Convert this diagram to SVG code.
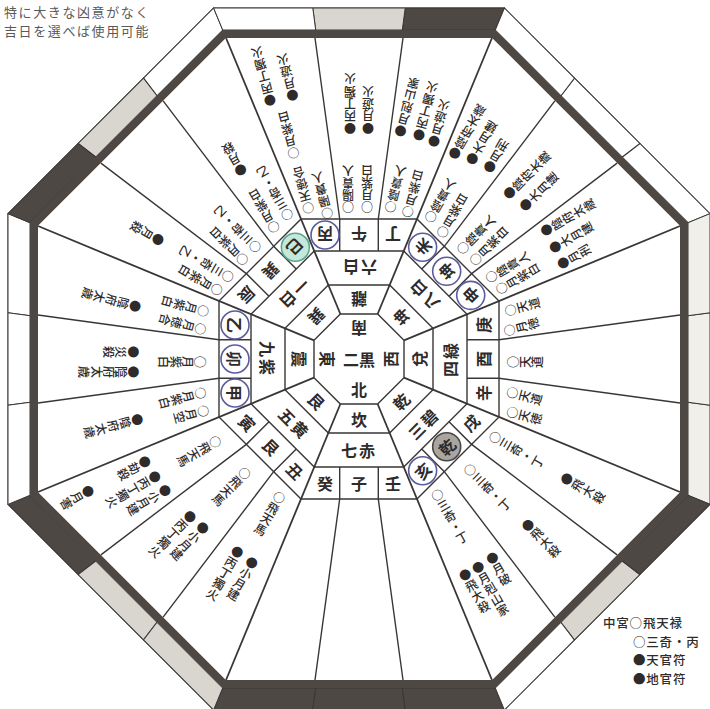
<svg xmlns="http://www.w3.org/2000/svg" width="710" height="709" viewBox="0 0 710 709">
<style>
.ln{stroke:#3a3636;fill:none;stroke-width:1.4}
.cl{stroke:#3a3636;stroke-width:1.8}
.sg{stroke:#3a3636;stroke-width:1}
.D{fill:#4e4845}.G{fill:#d9d6cf}.W{fill:#fff}.Lt{fill:#f1efea}
.k{font-family:"Noto Sans CJK JP",sans-serif;font-size:16px;font-weight:bold;fill:#2e2b2a;text-anchor:middle;dominant-baseline:central}
.v{font-family:"Noto Sans CJK JP",sans-serif;font-size:12px;font-weight:500;fill:#2e2b2a;writing-mode:vertical-rl;letter-spacing:0.3px}
.bc{fill:none;stroke:#5a5c9c;stroke-width:1.6}
.hd{font-family:"Noto Sans CJK JP",sans-serif;font-size:13px;fill:#5a5a5a;letter-spacing:1.6px}
.lg{font-family:"Noto Sans CJK JP",sans-serif;font-size:12.5px;font-weight:500;fill:#2e2b2a;letter-spacing:0.8px}
</style>
<rect width="710" height="709" fill="#fff"/>
<text class="hd" x="4" y="17">特に大きな凶意がなく</text>
<text class="hd" x="4" y="36">吉日を選べば使用可能</text>
<g transform="translate(359,359)">
<g id="frame">
<polygon class="sg" fill="#fff" points="145.39,351 351,145.39 351,-145.39 145.39,-351 -145.39,-351 -351,-145.39 -351,145.39 -145.39,351"/>
<g transform="rotate(0)"><polygon class="sg D" points="-136.28,329 -43.31,329 -46.21,351 -145.39,351"/><polygon class="sg D" points="-43.31,329 43.31,329 46.21,351 -46.21,351"/><polygon class="sg D" points="43.31,329 136.28,329 145.39,351 46.21,351"/></g>
<g transform="rotate(45)"><polygon class="sg D" points="-136.28,329 -43.31,329 -46.21,351 -145.39,351"/><polygon class="sg G" points="-43.31,329 43.31,329 46.21,351 -46.21,351"/><polygon class="sg G" points="43.31,329 136.28,329 145.39,351 46.21,351"/></g>
<g transform="rotate(90)"><polygon class="sg W" points="-136.28,329 -43.31,329 -46.21,351 -145.39,351"/><polygon class="sg W" points="-43.31,329 43.31,329 46.21,351 -46.21,351"/><polygon class="sg W" points="43.31,329 136.28,329 145.39,351 46.21,351"/></g>
<g transform="rotate(135)"><polygon class="sg W" points="-136.28,329 -43.31,329 -46.21,351 -145.39,351"/><polygon class="sg G" points="-43.31,329 43.31,329 46.21,351 -46.21,351"/><polygon class="sg D" points="43.31,329 136.28,329 145.39,351 46.21,351"/></g>
<g transform="rotate(180)"><polygon class="sg D" points="-136.28,329 -43.31,329 -46.21,351 -145.39,351"/><polygon class="sg G" points="-43.31,329 43.31,329 46.21,351 -46.21,351"/><polygon class="sg W" points="43.31,329 136.28,329 145.39,351 46.21,351"/></g>
<g transform="rotate(225)"><polygon class="sg W" points="-136.28,329 -43.31,329 -46.21,351 -145.39,351"/><polygon class="sg W" points="-43.31,329 43.31,329 46.21,351 -46.21,351"/><polygon class="sg W" points="43.31,329 136.28,329 145.39,351 46.21,351"/></g>
<g transform="rotate(270)"><polygon class="sg Lt" points="-136.28,329 -43.31,329 -46.21,351 -145.39,351"/><polygon class="sg Lt" points="-43.31,329 43.31,329 46.21,351 -46.21,351"/><polygon class="sg Lt" points="43.31,329 136.28,329 145.39,351 46.21,351"/></g>
<g transform="rotate(315)"><polygon class="sg W" points="-136.28,329 -43.31,329 -46.21,351 -145.39,351"/><polygon class="sg G" points="-43.31,329 43.31,329 46.21,351 -46.21,351"/><polygon class="sg D" points="43.31,329 136.28,329 145.39,351 46.21,351"/></g>
<path fill="#4e4845" fill-rule="evenodd" d="M136.28,329 L329,136.28 L329,-136.28 L136.28,-329 L-136.28,-329 L-329,-136.28 L-329,136.28 L-136.28,329 Z M132.96,321 L321,132.96 L321,-132.96 L132.96,-321 L-132.96,-321 L-321,-132.96 L-321,132.96 L-132.96,321 Z"/>
<polygon fill="#fff" points="132.96,321 321,132.96 321,-132.96 132.96,-321 -132.96,-321 -321,-132.96 -321,132.96 -132.96,321"/>
</g>
<g id="grid">
<polygon class="ln" points="57.99,140 140,57.99 140,-57.99 57.99,-140 -57.99,-140 -140,-57.99 -140,57.99 -57.99,140"/>
<polygon class="ln" points="44.74,108 108,44.74 108,-44.74 44.74,-108 -44.74,-108 -108,-44.74 -108,44.74 -44.74,108"/>
<polygon class="ln" points="30.65,74 74,30.65 74,-30.65 30.65,-74 -30.65,-74 -74,-30.65 -74,30.65 -30.65,74"/>
<polygon class="ln" points="18.64,45 45,18.64 45,-18.64 18.64,-45 -18.64,-45 -45,-18.64 -45,18.64 -18.64,45"/>
<g id="gl"><line class="cl" x1="18.64" y1="45" x2="132.96" y2="321"/><path class="ln" d="M-19.3,108V140L-44,321M19.3,108V140L44,321"/></g>
<use href="#gl" transform="rotate(45)"/><use href="#gl" transform="rotate(90)"/><use href="#gl" transform="rotate(135)"/><use href="#gl" transform="rotate(180)"/><use href="#gl" transform="rotate(225)"/><use href="#gl" transform="rotate(270)"/><use href="#gl" transform="rotate(315)"/>
</g>
<g id="center">
<text class="k" x="0" y="30">北</text>
<text class="k" transform="rotate(180) translate(0,30)" x="0" y="0">南</text>
<text class="k" transform="translate(-31,0) rotate(90)" x="0" y="0">東</text>
<text class="k" transform="translate(31,0) rotate(-90)" x="0" y="0">西</text>
<text class="k" x="0" y="0">二黒</text>
</g>
<g id="side-kan" transform="rotate(0)">
<text class="k" x="0" y="59.5">坎</text><text class="k" x="0" y="91" letter-spacing="2">七赤</text>
<text class="k" x="-34" y="124">癸</text><text class="k" x="0" y="124">子</text><text class="k" x="34" y="124">壬</text>
</g>
<g id="side-gon" transform="rotate(45)">
<text class="k" x="0" y="59.5">艮</text><text class="k" x="0" y="91" letter-spacing="2">五黄</text>
<text class="k" x="-34" y="124">寅</text><text class="k" x="0" y="124">艮</text><text class="k" x="34" y="124">丑</text>
<g transform="rotate(15)"><text class="v" x="0" y="160">○飛天馬</text><text class="v" x="17" y="228">●小月建</text><text class="v" x="0" y="230">●丙丁獨火</text><text class="v" x="-18" y="231">●劫殺</text><text class="v" x="-21" y="295">●月害</text></g>
<g><text class="v" x="0" y="156">○飛天馬</text><text class="v" x="9" y="224">●小月建</text><text class="v" x="-8" y="225">●丙丁獨火</text></g>
<g transform="rotate(-15)"><text class="v" x="0" y="154">○飛天馬</text><text class="v" x="9" y="224">●小月建</text><text class="v" x="-9" y="222">●丙丁獨火</text></g>
</g>
<g id="side-shin" transform="rotate(90)">
<circle class="bc" cx="-34" cy="124" r="14"/><circle class="bc" cx="0" cy="124" r="14"/><circle class="bc" cx="34" cy="124" r="14"/>
<text class="k" x="0" y="59.5">震</text><text class="k" x="0" y="91" letter-spacing="2">九紫</text>
<text class="k" x="-34" y="124">乙</text><text class="k" x="0" y="124">卯</text><text class="k" x="34" y="124">甲</text>
<g transform="rotate(15)"><text class="v" x="-6" y="157">○月紫白</text><text class="v" x="12" y="155">○月徳合</text><text class="v" x="7" y="224">●陰府太歳</text></g>
<g><text class="v" x="3" y="153">○月紫白</text><text class="v" x="-7" y="220">●災殺</text><text class="v" x="13" y="220">●陰府太歳</text></g>
<g transform="rotate(-15)"><text class="v" x="-8" y="156">○月紫白</text><text class="v" x="10" y="158">○月空</text><text class="v" x="1" y="224">●陰府太歳</text></g>
</g>
<g id="side-son" transform="rotate(135)">
<circle cx="-34" cy="124" r="14" fill="#c4e8da" stroke="#5aa58f" stroke-width="1.6"/>
<text class="k" x="0" y="59.5">巽</text><text class="k" x="0" y="91" letter-spacing="2">一白</text>
<text class="k" x="-34" y="124">巳</text><text class="k" x="0" y="124">巽</text><text class="k" x="34" y="124">辰</text>
<g transform="rotate(15)"><text class="v" x="-10" y="155">○三奇・乙</text><text class="v" x="8" y="151">○月紫白</text><text class="v" x="8" y="217">●月殺</text></g>
<g><text class="v" x="-6" y="147">○三奇・乙</text><text class="v" x="12" y="147">○月紫白</text></g>
<g transform="rotate(-15)"><text class="v" x="-6" y="149">○三奇・乙</text><text class="v" x="11" y="152">○月紫白</text><text class="v" x="-3" y="228">●月殺</text></g>
</g>
<g id="side-ri" transform="rotate(180)">
<circle class="bc" cx="34" cy="124" r="14"/>
<text class="k" x="0" y="59.5">離</text><text class="k" x="0" y="91" letter-spacing="2">六白</text>
<text class="k" x="-34" y="124">丁</text><text class="k" x="0" y="124">午</text><text class="k" x="34" y="124">丙</text>
<g transform="rotate(15)"><text class="v" x="9" y="149">○陰貴人</text><text class="v" x="-9" y="149">○月紫白</text><text class="v" x="19" y="225">●月剋山家</text><text class="v" x="0" y="226">●丙丁獨火</text><text class="v" x="-16" y="224">●月遊火</text></g>
<g><text class="v" x="11" y="146">○陽貴人</text><text class="v" x="-8" y="146">○月紫白</text><text class="v" x="9" y="225">●丙丁獨火</text><text class="v" x="-9" y="225">●月遊火</text></g>
<g transform="rotate(-15)"><text class="v" x="-7" y="143">○陽貴人</text><text class="v" x="10" y="153">○天徳合</text><text class="v" x="10" y="210">○月紫白</text><text class="v" x="19" y="267">●丙丁獨火</text><text class="v" x="-4" y="266">●月遊火</text></g>
</g>
<g id="side-kon" transform="rotate(225)">
<circle class="bc" cx="-34" cy="124" r="14"/><circle class="bc" cx="0" cy="124" r="14"/><circle class="bc" cx="34" cy="124" r="14"/>
<text class="k" x="0" y="59.5">坤</text><text class="k" x="0" y="91" letter-spacing="2">八白</text>
<text class="k" x="-34" y="124">申</text><text class="k" x="0" y="124">坤</text><text class="k" x="34" y="124">未</text>
<g transform="rotate(15)"><text class="v" x="5" y="150">○陰貴人</text><text class="v" x="-10" y="153">○月紫白</text><text class="v" x="18" y="221">●陰府太歳</text><text class="v" x="-1" y="220">●大月建</text><text class="v" x="-19" y="219">●月刑</text></g>
<g><text class="v" x="5" y="146">○陰貴人</text><text class="v" x="-12" y="147">○月紫白</text><text class="v" x="11" y="218">●陰府太歳</text><text class="v" x="-9" y="221">●大月建</text></g>
<g transform="rotate(-15)"><text class="v" x="9" y="153">○陰貴人</text><text class="v" x="-9" y="146">○月紫白</text><text class="v" x="20" y="220">●陰府太歳</text><text class="v" x="2" y="224">●大月建</text><text class="v" x="-17" y="226">●月刑</text></g>
</g>
<g id="side-da" transform="rotate(270)">
<text class="k" x="0" y="59.5">兌</text><text class="k" x="0" y="91" letter-spacing="2">四緑</text>
<text class="k" x="-34" y="124">辛</text><text class="k" x="0" y="124">酉</text><text class="k" x="34" y="124">庚</text>
<g transform="rotate(15)"><text class="v" x="7" y="151">○天道</text><text class="v" x="-12" y="156">○天徳</text></g>
<g><text class="v" x="-3" y="148">○天道</text></g>
<g transform="rotate(-15)"><text class="v" x="8" y="153">○天道</text><text class="v" x="-11" y="147">○月徳</text></g>
</g>
<g id="side-ken" transform="rotate(315)">
<circle class="bc" cx="-34" cy="124" r="14"/>
<circle cx="0" cy="124" r="14" fill="#a9a6a2" stroke="#4a4646" stroke-width="1.6"/>
<text class="k" x="0" y="59.5">乾</text><text class="k" x="0" y="91" letter-spacing="2">三碧</text>
<text class="k" x="-34" y="124">亥</text><text class="k" x="0" y="124">乾</text><text class="k" x="34" y="124">戌</text>
<g transform="rotate(15)"><text class="v" x="0" y="151">○三奇・丁</text><text class="v" x="16" y="233">●月破</text><text class="v" x="-1" y="234">●月剋山家</text><text class="v" x="-16" y="234">●飛大殺</text></g>
<g><text class="v" x="0" y="151">○三奇・丁</text><text class="v" x="2" y="231">●飛大殺</text></g>
<g transform="rotate(-15)"><text class="v" x="0" y="151">○三奇・丁</text><text class="v" x="0" y="234">●飛大殺</text></g>
</g>
</g>
<g id="legend">
<text class="lg" x="603" y="628">中宮○飛天禄</text>
<text class="lg" x="633" y="646.5">○三奇・丙</text>
<text class="lg" x="633" y="665">●天官符</text>
<text class="lg" x="633" y="683.5">●地官符</text>
</g>
</svg>
